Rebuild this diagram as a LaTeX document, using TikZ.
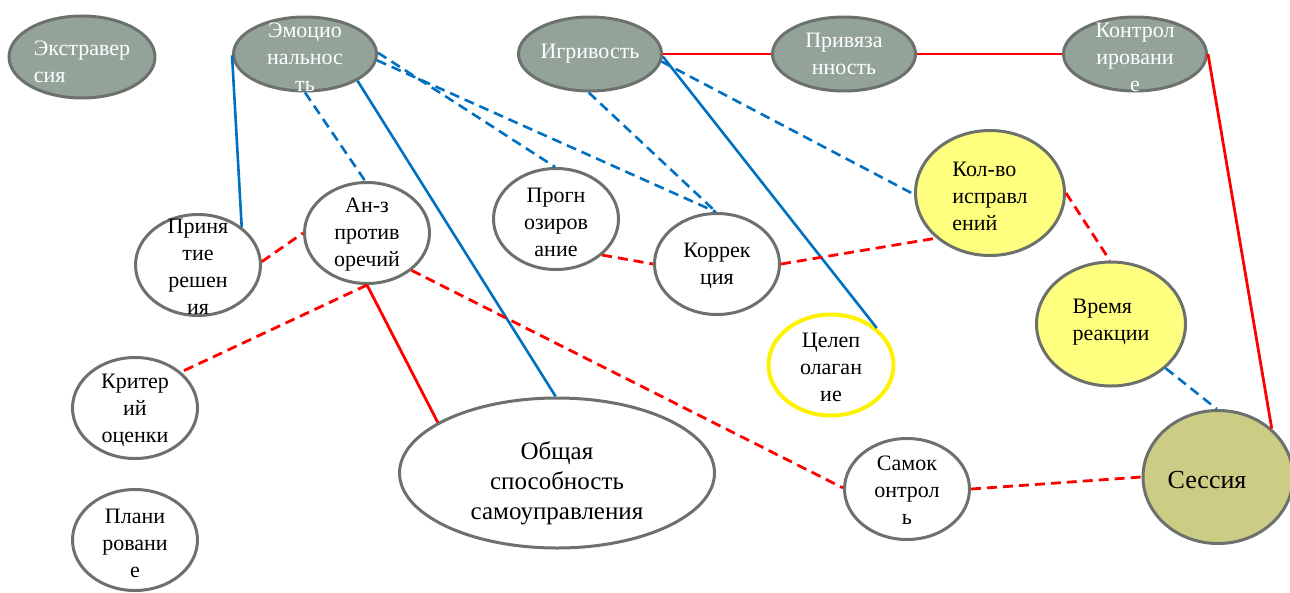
\documentclass[tikz,border=0pt]{standalone}
\usepackage{fontspec}
\setmainfont{Liberation Serif}
\newfontfamily\timesfont{Liberation Serif}
\usetikzlibrary{shapes.geometric}

\definecolor{ballgray}{HTML}{94A39A}
\definecolor{ringgray}{HTML}{6C716C}
\definecolor{ballyellow}{HTML}{FFFF7F}
\definecolor{ballolive}{HTML}{CCCC84}
\definecolor{linkblue}{HTML}{0070C0}
\definecolor{linkred}{HTML}{FF0000}

\begin{document}
\begin{tikzpicture}[x=1pt,y=-1pt,line join=round,
  every label/.style={align=center,inner sep=0pt,font=\timesfont\fontsize{22}{27}\selectfont},
  ball/.style={ellipse,draw=ringgray,line width=3pt,inner sep=0pt,
    minimum width=125pt,minimum height=101pt},
  grayball/.style={ball,fill=ballgray,minimum width=143pt,minimum height=74pt},
  yellowball/.style={ball,fill=ballyellow,minimum width=149pt,minimum height=125pt},
  wtext/.style={text=white},
  blueline/.style={draw=linkblue,line width=2.6pt},
  redline/.style={draw=linkred,line width=2.8pt},
  dashlink/.style={dash pattern=on 10pt off 6pt}]
  \useasboundingbox (0,0) rectangle (1290,592);

  % top row
  \node[grayball,minimum width=146pt,minimum height=82pt,
    label={[wtext,align=left,yshift=-5pt]center:{Экстравер\\сия}}] (extra) at (82,57) {};
  \node[grayball,label={[wtext,yshift=-3pt]center:{Эмоцио\\нальнос\\ть}}] (emo) at (305,54) {};
  \node[grayball,label={[wtext]center:{Игривость}}] (igr) at (590,54) {};
  \node[grayball,label={[wtext]center:{Привяза\\нность}}] (priv) at (844,54) {};
  \node[grayball,label={[wtext,yshift=-3pt]center:{Контрол\\ировани\\е}}] (kontr) at (1135,54) {};

  % white circles
  \node[ball,label={[yshift=-2pt]center:{Приня\\тие\\решен\\ия}}] (prin) at (198,265) {};
  \node[ball,label={[yshift=-2pt]center:{Ан-з\\против\\оречий}}] (anz) at (367,233) {};
  \node[ball,label={[yshift=-2pt]center:{Критер\\ий\\оценки}}] (krit) at (135,408) {};
  \node[ball,label={[yshift=-3pt]center:{Плани\\ровани\\е}}] (plan) at (135,540) {};
  \node[ball,label={[yshift=-3pt]center:{Прогн\\озиров\\ание}}] (progn) at (556,219) {};
  \node[ball,label={[yshift=-2pt]center:{Коррек\\ция}}] (korr) at (717,264) {};
  \node[ball,draw=yellow,line width=4pt,
    label={[yshift=-2pt]center:{Целеп\\олаган\\ие}}] (cel) at (831,365) {};
  \node[ball,label={[yshift=-1pt]center:{Самок\\онтрол\\ь}}] (samok) at (907,489) {};
  \node[ball,minimum width=315pt,minimum height=150pt,
    label={[font=\timesfont\fontsize{25}{30}\selectfont,yshift=-10pt]center:{Общая\\способность\\самоуправления}}] (obsh) at (557,473) {};

  % coloured circles
  \node[yellowball,label={[align=left,yshift=-3pt]center:{Кол-во\\исправл\\ений}}] (kolvo) at (990,193) {};
  \node[yellowball,minimum height=124pt,
    label={[align=left,yshift=2pt]center:{Время\\реакции}}] (vrem) at (1111,324) {};
  \node[ball,fill=ballolive,minimum width=150pt,minimum height=133pt,
    label={[font=\timesfont\fontsize{26}{30}\selectfont,xshift=-11pt,yshift=-3pt]center:{Сессия}}] (sess) at (1218,477) {};

  % blue links
  \draw[blueline] (emo.181) -- (prin.41);
  \draw[blueline] (emo.333) -- (obsh.91.5);
  \draw[blueline] (igr.358) -- (cel.39);
  \draw[blueline,dashlink] (emo.270) -- (anz.92);
  \draw[blueline,dashlink] (emo.1) -- (progn.91);
  \draw[blueline,dashlink] (emo.355) -- (korr.91);
  \draw[blueline,dashlink] (igr.268) -- (korr.91);
  \draw[blueline,dashlink] (igr.354) -- (kolvo.181);
  \draw[blueline,dashlink] (vrem.321) -- (sess.91);

  % red links
  \draw[redline] (igr.east) -- (priv.west);
  \draw[redline] (priv.east) -- (kontr.west);
  \draw[redline] (kontr.0) -- (sess.42);
  \draw[redline] (anz.270) -- (obsh.157);
  \draw[redline,dashlink] (prin.3) -- (anz.180);
  \draw[redline,dashlink] (anz.270) -- (krit.38);
  \draw[redline,dashlink] (anz.320) -- (samok.179);
  \draw[redline,dashlink] (progn.322) -- (korr.180);
  \draw[redline,dashlink] (korr.0) -- (kolvo.220);
  \draw[redline,dashlink] (kolvo.0) -- (vrem.91);
  \draw[redline,dashlink] (samok.0) -- (sess.180);
\end{tikzpicture}
\end{document}
